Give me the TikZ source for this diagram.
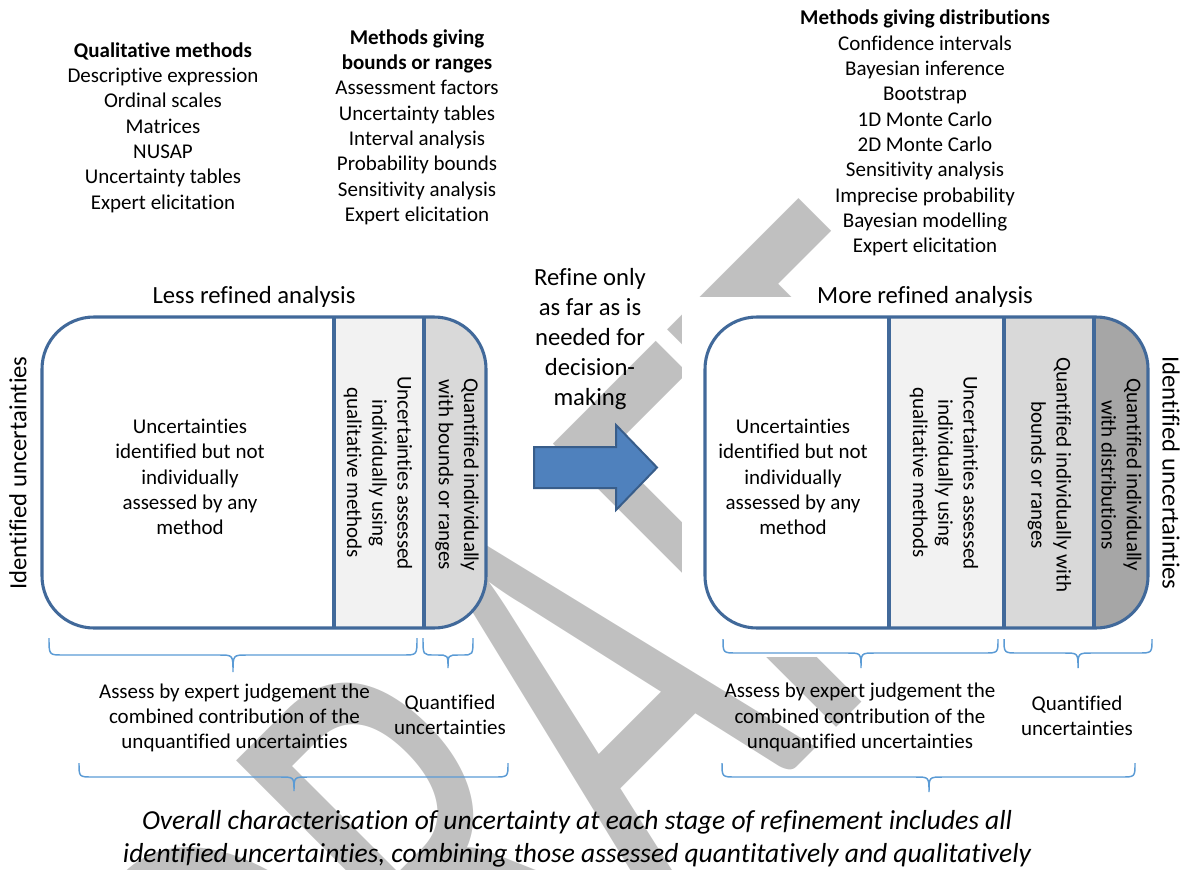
\documentclass[tikz,border=0pt]{standalone}
\usepackage{fontspec}
\setmainfont{Carlito}[Ligatures=NoCommon]
\usepackage{graphicx}
\definecolor{boxblue}{HTML}{41699A}
\definecolor{arrowfill}{HTML}{4F81BD}
\definecolor{arrowline}{HTML}{385D8A}
\definecolor{bracecol}{HTML}{5B9BD5}
\definecolor{wmgray}{HTML}{C0C0C0}
\definecolor{shadeA}{HTML}{F2F2F2}
\definecolor{shadeB}{HTML}{D9D9D9}
\definecolor{shadeC}{HTML}{A6A6A6}
% horizontal curly brace opening downwards:
% #1 left x, #2 right x, #3 tip x, #4 end y, #5 bar y, #6 tip y, #7 end radius
\newcommand{\curlybrace}[7]{%
  \draw[bracestyle] (#1,#4) .. controls (#1,#5) .. (#1+#7,#5) -- (#3-#7,#5)
    .. controls (#3,#5) .. (#3,#6) .. controls (#3,#5) .. (#3+#7,#5)
    -- (#2-#7,#5) .. controls (#2,#5) .. (#2,#4);}
\begin{document}
\begin{tikzpicture}[x=0.75pt,y=-0.75pt,
  body/.style={font=\fontsize{15.75}{19}\selectfont, align=center, inner sep=0pt},
  head/.style={font=\fontsize{18.5}{22.5}\selectfont, align=center, inner sep=0pt},
  capt/.style={font=\fontsize{20.6}{24.75}\selectfont\itshape, align=center, inner sep=0pt},
  boxline/.style={draw=boxblue, line width=2.3pt},
  divline/.style={draw=boxblue, line width=2.3pt},
  bracestyle/.style={draw=bracecol, line width=1.1pt},
  wmark/.style={text=wmgray, inner sep=0pt},
  blockarrow/.style={fill=arrowfill, draw=arrowline, line width=1.5pt, line join=miter}]
\useasboundingbox (0,0) rectangle (1184,870);

% watermark behind everything
\begin{scope}
  \clip (0,0) rectangle (1184,870);
  \node[wmark, rotate=45, anchor=base west] (draftmark) at (325.5,1238.7)
    {\resizebox{805.5pt}{300pt}{DRAFT}};
\end{scope}
% opaque backing of the right-hand group
\fill[white] (682,297) rectangle (1184,657);

% method lists
\node[body] (qual) at (163,127.5) {\textbf{Qualitative methods}\\Descriptive expression\\Ordinal scales\\Matrices\\NUSAP\\Uncertainty tables\\Expert elicitation};
\node[body] (bounds) at (417,127) {\textbf{Methods giving}\\\textbf{bounds or ranges}\\Assessment factors\\Uncertainty tables\\Interval analysis\\Probability bounds\\Sensitivity analysis\\Expert elicitation};
\node[body] (dists) at (925,133) {\textbf{Methods giving distributions}\\Confidence intervals\\Bayesian inference\\Bootstrap\\1D Monte Carlo\\2D Monte Carlo\\Sensitivity analysis\\Imprecise probability\\Bayesian modelling\\Expert elicitation};

% headings
\node[head] (lesshead) at (254,297) {Less refined analysis};
\node[head] (morehead) at (925,297) {More refined analysis};
\node[head] (refine) at (590,338.6) {Refine only\\as far as is\\needed for\\decision-\\making};

% less refined analysis box
\begin{scope}
  \clip[rounded corners=39pt] (42,317) rectangle (486,628);
  \fill[white] (42,317) rectangle (334,628);
  \fill[shadeA] (334,317) rectangle (424,628);
  \fill[shadeB] (424,317) rectangle (486,628);
\end{scope}
\draw[divline] (334,317) -- (334,628);
\draw[divline] (424,317) -- (424,628);
\draw[boxline, rounded corners=39pt] (42,317) rectangle (486,628);

% more refined analysis box
\begin{scope}
  \clip[rounded corners=39pt] (705,317) rectangle (1148,628);
  \fill[white] (705,317) rectangle (889,628);
  \fill[shadeA] (889,317) rectangle (1004,628);
  \fill[shadeB] (1004,317) rectangle (1094,628);
  \fill[shadeC] (1094,317) rectangle (1148,628);
\end{scope}
\draw[divline] (889,317) -- (889,628);
\draw[divline] (1004,317) -- (1004,628);
\draw[divline] (1094,317) -- (1094,628);
\draw[boxline, rounded corners=39pt] (705,317) rectangle (1148,628);

% box contents
\node[body] (lnone) at (190,477) {Uncertainties\\identified but not\\individually\\assessed by any\\method};
\node[body, rotate=-90] (lqual) at (378,473) {Uncertainties assessed\\individually using\\qualitative methods};
\node[body, rotate=-90] (lbnd) at (457,475) {Quantified individually\\with bounds or ranges};
\node[body] (rnone) at (793,477) {Uncertainties\\identified but not\\individually\\assessed by any\\method};
\node[body, rotate=-90] (rqual) at (944,473) {Uncertainties assessed\\individually using\\qualitative methods};
\node[body, rotate=-90] (rbnd) at (1049.5,475) {Quantified individually with\\bounds or ranges};
\node[body, rotate=-90] (rdist) at (1121.5,475) {Quantified individually\\with distributions};

% side labels
\node[head, rotate=90] (lident) at (18,473) {Identified uncertainties};
\node[head, rotate=-90] (rident) at (1171,473) {Identified uncertainties};

% refinement arrow
\draw[blockarrow] (534,447) -- (616,447) -- (616,425) -- (657,467.5) -- (616,510) -- (616,488) -- (534,488) -- cycle;

% braces
\curlybrace{49}{417}{233}{638}{655}{672}{14}
\curlybrace{423}{473}{448}{638}{655}{668}{11}
\curlybrace{79}{508}{294}{763}{777}{791}{14}
\curlybrace{723}{998}{861}{639}{653}{668}{14}
\curlybrace{1004}{1152}{1078}{639}{653}{668}{14}
\curlybrace{722}{1135}{929}{763}{777}{792}{14}

% brace labels
\node[body] (lassess) at (234.5,718) {Assess by expert judgement the\\combined contribution of the\\unquantified uncertainties};
\node[body] (lquant) at (450,715) {Quantified\\uncertainties};
\node[body] (rassess) at (860,717.5) {Assess by expert judgement the\\combined contribution of the\\unquantified uncertainties};
\node[body] (rquant) at (1077,715.5) {Quantified\\uncertainties};

% overall caption
\node[capt] (caption) at (577,838.5) {Overall characterisation of uncertainty at each stage of refinement includes all\\identified uncertainties, combining those assessed quantitatively and qualitatively};
\end{tikzpicture}
\end{document}
